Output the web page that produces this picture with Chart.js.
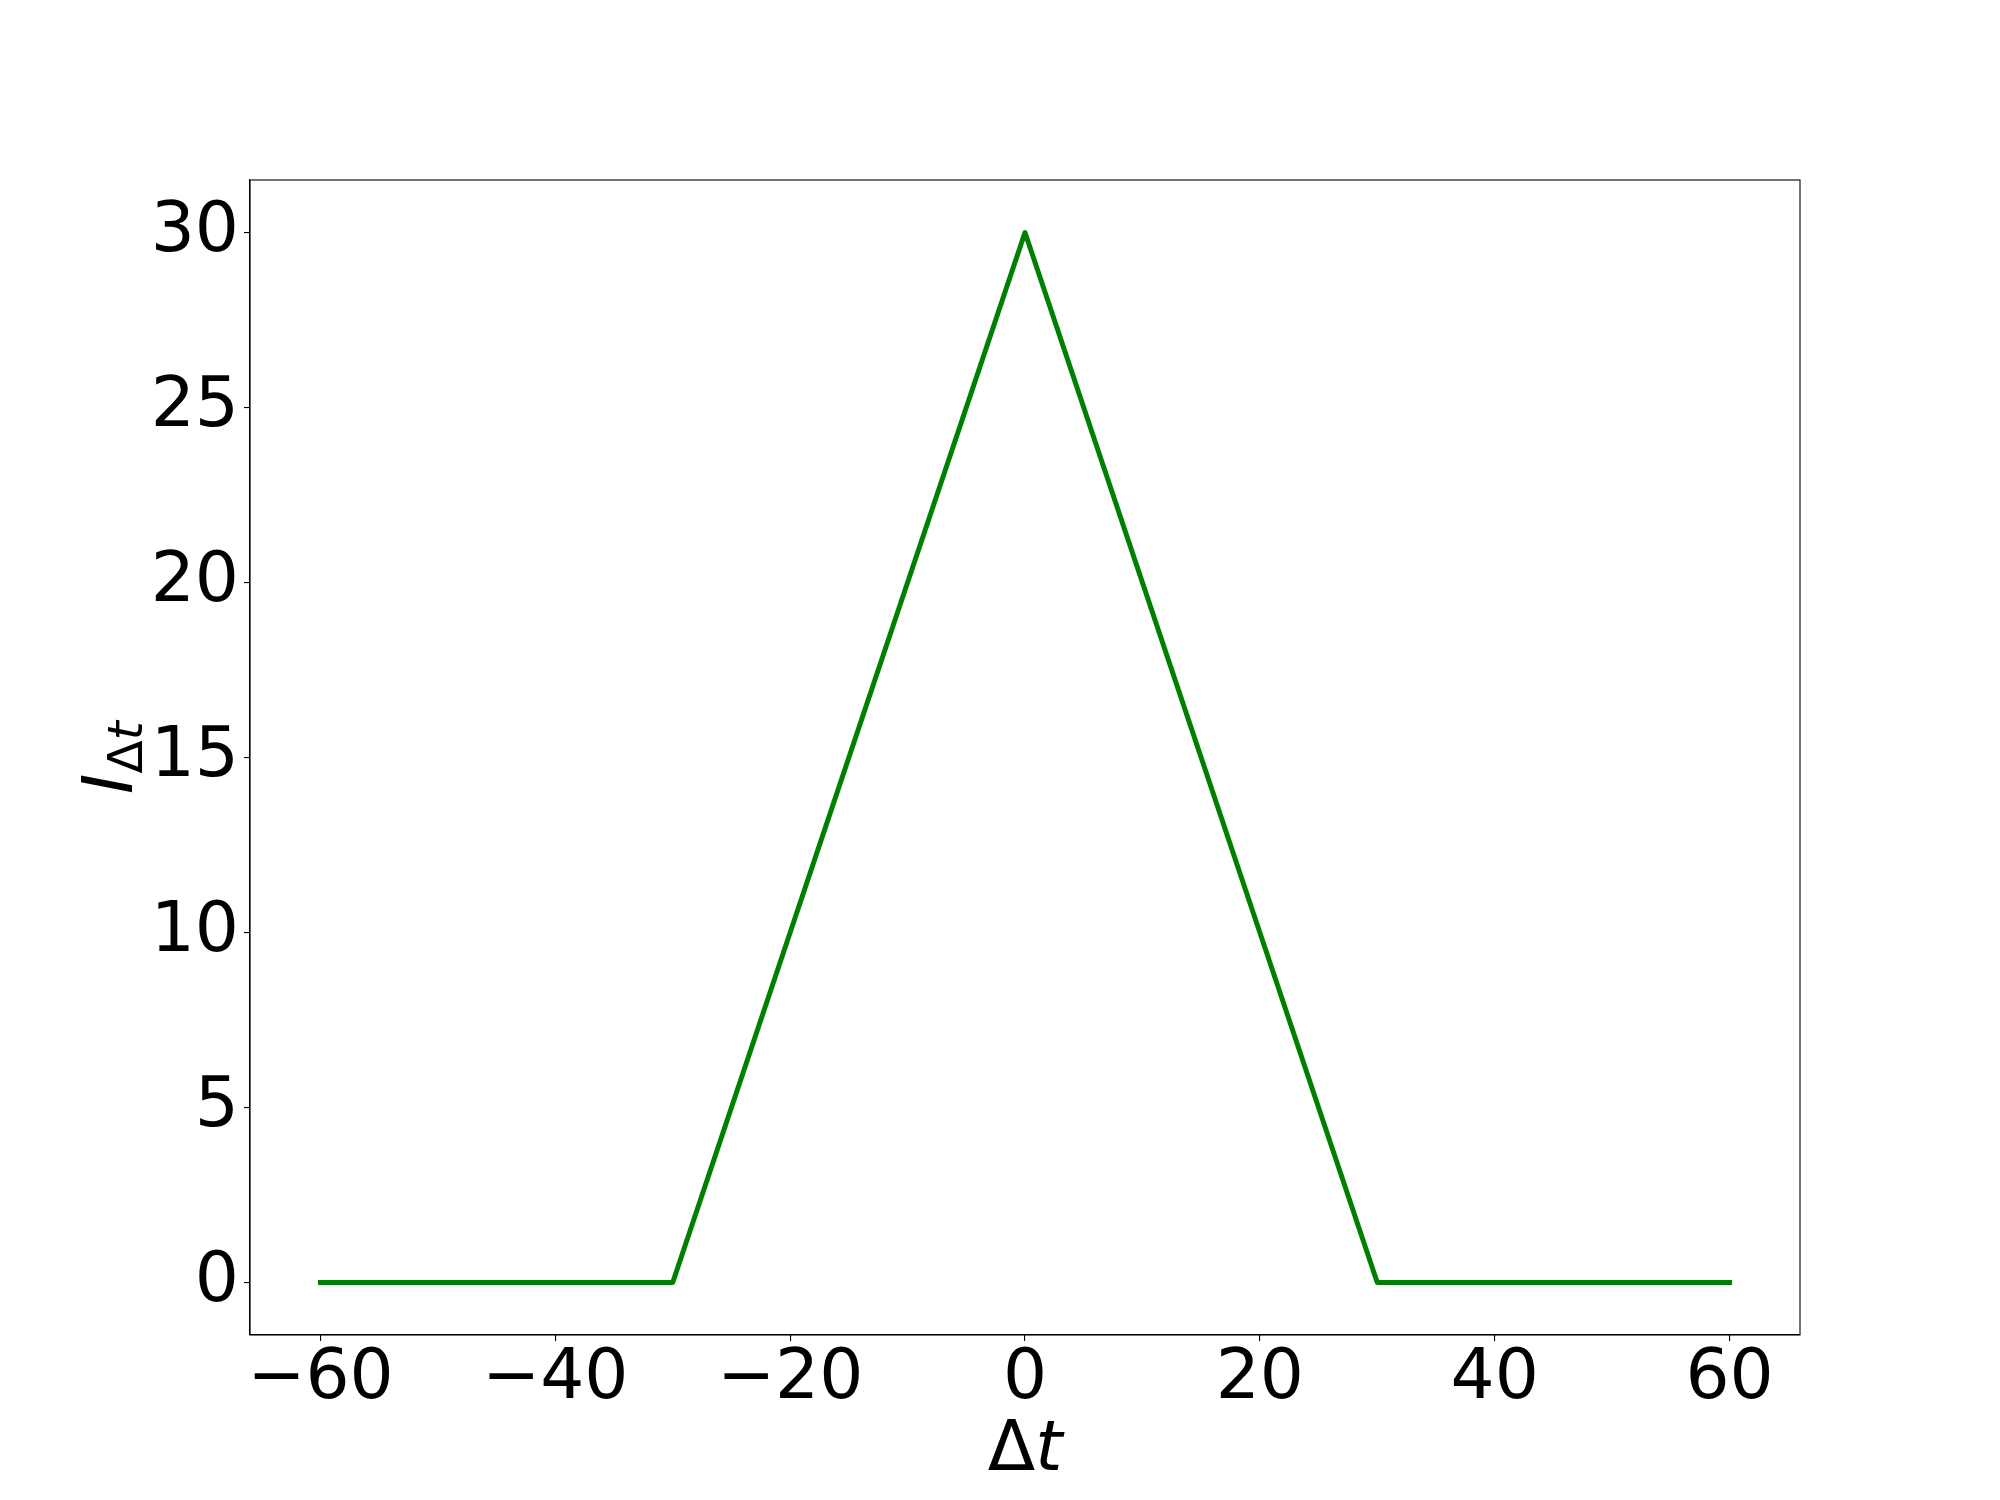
<!DOCTYPE html>
<html>
<head>
<meta charset="utf-8">
<script src="https://cdn.jsdelivr.net/npm/chart.js@4.4.1/dist/chart.umd.min.js"></script>
<style>
  body { margin: 0; background: #fff; }
  #wrap { width: 2000px; height: 1500px; }
</style>
</head>
<body>
<div id="wrap"><canvas id="chart" width="2000" height="1500"></canvas></div>
<script>
// data
const dtValues = [-60, -30, 0, 30, 60]
const iValues = [0, 0, 30, 0, 0]

const xTicks = [-60, -40, -20, 0, 20, 40, 60]
const xTickLabels = ['\u221260', '\u221240', '\u221220', '0', '20', '40', '60']
const yTicks = [0, 5, 10, 15, 20, 25, 30]
const yTickLabels = ['0', '5', '10', '15', '20', '25', '30']

const FONT = 'DejaVu Sans'
const BIG = 69.4
const SMALL = 48.6

/** frame + axis labels */
const axisDecor = {
    id: 'axisDecor',
    afterDraw(chart) {
        const ctx = chart.ctx
        const a = chart.chartArea
        ctx.save()
        ctx.strokeStyle = '#000'
        ctx.lineWidth = 1.1
        ctx.strokeRect(a.left, a.top, a.right - a.left, a.bottom - a.top)

        // x label: Δt
        ctx.fillStyle = '#000'
        ctx.textBaseline = 'alphabetic'
        ctx.textAlign = 'left'
        ctx.font = `${BIG}px "${FONT}"`
        const wD = ctx.measureText('\u0394').width
        ctx.font = `oblique ${BIG}px "${FONT}"`
        const wT = ctx.measureText('t').width
        let x0 = (a.left + a.right) / 2 - (wD + wT) / 2
        const base = a.bottom + 135
        ctx.font = `${BIG}px "${FONT}"`
        ctx.fillText('\u0394', x0, base)
        ctx.font = `oblique ${BIG}px "${FONT}"`
        ctx.fillText('t', x0 + wD, base)

        // y label: I_Δt
        ctx.translate(132, (a.top + a.bottom) / 2)
        ctx.rotate(-Math.PI / 2)
        ctx.font = `oblique ${BIG}px "${FONT}"`
        const wI = ctx.measureText('I').width
        ctx.font = `${SMALL}px "${FONT}"`
        const wsD = ctx.measureText('\u0394').width
        ctx.font = `oblique ${SMALL}px "${FONT}"`
        const wsT = ctx.measureText('t').width
        let y0 = -(wI + wsD + wsT) / 2
        ctx.font = `oblique ${BIG}px "${FONT}"`
        ctx.fillText('I', y0, 0)
        ctx.font = `${SMALL}px "${FONT}"`
        ctx.fillText('\u0394', y0 + wI, 10)
        ctx.font = `oblique ${SMALL}px "${FONT}"`
        ctx.fillText('t', y0 + wI + wsD, 10)
        ctx.restore()
    }
}

const tickGrid = { display: true, drawOnChartArea: false, drawTicks: true, tickLength: 6, color: '#000', lineWidth: 1.1 }

new Chart(document.getElementById('chart'), {
    type: 'line',
    data: {
        datasets: [{
            data: dtValues.map((x, i) => ({ x: x, y: iValues[i] })),
            borderColor: '#008000',
            borderWidth: 5,
            borderCapStyle: 'square',
            borderJoinStyle: 'round',
            pointRadius: 0,
            fill: false,
            tension: 0
        }]
    },
    options: {
        responsive: false,
        animation: false,
        events: [],
        layout: { padding: { top: 180, right: 200, left: 0, bottom: 0 } },
        plugins: { legend: { display: false }, tooltip: { enabled: false } },
        scales: {
            x: {
                type: 'linear',
                min: -66,
                max: 66,
                afterBuildTicks: scale => { scale.ticks = xTicks.map(v => ({ value: v })) },
                afterFit: scale => { scale.height = 165 },
                grid: tickGrid,
                border: { display: true, color: '#000', width: 1.1 },
                ticks: {
                    color: '#000',
                    font: { family: FONT, size: BIG },
                    padding: -3,
                    maxRotation: 0,
                    autoSkip: false,
                    callback: v => xTickLabels[xTicks.indexOf(v)]
                }
            },
            y: {
                type: 'linear',
                min: -1.5,
                max: 31.5,
                afterBuildTicks: scale => { scale.ticks = yTicks.map(v => ({ value: v })) },
                afterFit: scale => { scale.width = 250 },
                grid: tickGrid,
                border: { display: true, color: '#000', width: 1.1 },
                ticks: {
                    color: '#000',
                    font: { family: FONT, size: BIG },
                    padding: 5,
                    autoSkip: false,
                    callback: v => yTickLabels[yTicks.indexOf(v)]
                }
            }
        }
    },
    plugins: [axisDecor]
})
</script>
</body>
</html>
